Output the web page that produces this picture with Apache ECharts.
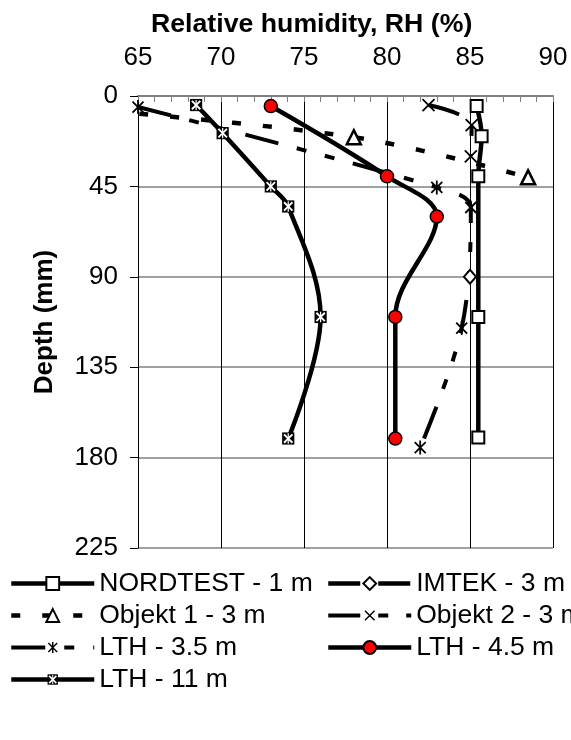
<!DOCTYPE html>
<html><head><meta charset="utf-8">
<script src="https://cdn.jsdelivr.net/npm/echarts@6/dist/echarts.min.js"></script>
<style>html,body{margin:0;padding:0;background:#fff}#c{width:571px;height:740px}</style>
</head><body><div id="c"></div>
<script>
// ---- data ----
const xTicks = [65, 70, 75, 80, 85, 90];
const yTicks = [0, 45, 90, 135, 180, 225];
const seriesNames = ['NORDTEST - 1 m', 'IMTEK - 3 m', 'Objekt 1 - 3 m', 'Objekt 2 - 3 m', 'LTH - 3.5 m', 'LTH - 4.5 m', 'LTH - 11 m'];
const nordtestRH = [85.4, 85.7, 85.5, 85.5, 85.5];
const nordtestDepth = [5, 20, 40, 110, 170];
const imtekRH = [85];
const imtekDepth = [90];
const objekt1RH = [59.5, 78, 88.5];
const objekt1Depth = [5, 20.5, 40.5];
const objekt2RH = [82.5, 85.1, 85.05];
const objekt2Depth = [4.5, 14.5, 30];
const lth35RH = [65, 83, 85.05, 84.5, 82];
const lth35Depth = [5.5, 45.5, 55.5, 115.5, 175];
const lth45RH = [73, 80, 83, 80.5, 80.5];
const lth45Depth = [5, 40, 60, 110, 170.5];
const lth11RH = [68.5, 70.1, 73, 74.05, 76, 74.05];
const lth11Depth = [4.5, 18.5, 45, 55, 110, 170.5];

const font = '"Liberation Sans", Arial, sans-serif';
function svgSym(body) {
  return 'image://data:image/svg+xml;charset=utf-8,' + encodeURIComponent(
    "<svg xmlns='http://www.w3.org/2000/svg' width='32' height='32' viewBox='0 0 16 16'>" + body + "</svg>");
}
const xMark = svgSym("<path d='M2 2L14 14M2 14L14 2' stroke='#000' stroke-width='1.8' fill='none'/>");
const astMark = svgSym("<path d='M2.5 2.5L13.5 13.5M2.5 13.5L13.5 2.5M8 1L8 15' stroke='#000' stroke-width='1.8' fill='none'/>");
const starMark = svgSym("<rect x='1.5' y='1.5' width='13' height='13' fill='#000'/><path d='M3.5 3.5L12.5 12.5M3.5 12.5L12.5 3.5' stroke='#fff' stroke-width='2'/><path d='M8 2.5L8 13.5' stroke='#fff' stroke-width='1.3'/>");

function zip(a, b) { return a.map((v, i) => [v, b[i]]); }
function mk(name, rh, depth, opt) {
  return Object.assign({ name, type: 'line', data: zip(rh, depth), smooth: 0.35, clip: true,
    emphasis: { disabled: true }, animation: false }, opt);
}
const series = [
  mk(seriesNames[0], nordtestRH, nordtestDepth, { symbol: 'rect', symbolSize: 12,
    lineStyle: { color: '#000', width: 4.5 }, itemStyle: { color: '#fff', borderColor: '#000', borderWidth: 2 } }),
  mk(seriesNames[1], imtekRH, imtekDepth, { symbol: 'diamond', symbolSize: [12, 14],
    lineStyle: { color: '#000', width: 4.5, type: [32, 18] }, itemStyle: { color: '#fff', borderColor: '#000', borderWidth: 2 } }),
  mk(seriesNames[2], objekt1RH, objekt1Depth, { symbol: 'triangle', symbolSize: 14,
    lineStyle: { color: '#000', width: 4.5, type: [9, 22] }, itemStyle: { color: '#fff', borderColor: '#000', borderWidth: 2.5 } }),
  mk(seriesNames[3], objekt2RH, objekt2Depth, { symbol: xMark, symbolSize: 16,
    lineStyle: { color: '#000', width: 4, type: [32, 18, 10, 18] }, itemStyle: { color: '#000' } }),
  mk(seriesNames[4], lth35RH, lth35Depth, { symbol: astMark, symbolSize: 16,
    lineStyle: { color: '#000', width: 4, type: [34, 19, 10, 19, 10, 19] }, itemStyle: { color: '#000' } }),
  mk(seriesNames[5], lth45RH, lth45Depth, { symbol: 'circle', symbolSize: 13,
    lineStyle: { color: '#000', width: 4.5 }, itemStyle: { color: '#ff0000', borderColor: '#000', borderWidth: 1.5 } }),
  mk(seriesNames[6], lth11RH, lth11Depth, { symbol: starMark, symbolSize: 15,
    lineStyle: { color: '#000', width: 4.5 }, itemStyle: { color: '#000' } })
];

const legendText = { fontFamily: font, fontSize: 26.5, color: '#000' };
const legendCommon = { orient: 'vertical', top: 570, padding: 0, itemWidth: 83, itemHeight: 16, itemGap: 5,
  selectedMode: false, textStyle: legendText, lineStyle: { width: 'inherit', type: 'inherit' } };
const chart = echarts.init(document.getElementById('c'), null, { renderer: 'canvas' });
chart.setOption({
  animation: false,
  backgroundColor: '#fff',
  title: { text: 'Relative humidity, RH (%)', left: 151, top: 11, padding: 0,
    textStyle: { fontFamily: font, fontSize: 26.7, fontWeight: 'bold', color: '#000' } },
  grid: { left: 138, right: 18, top: 96, bottom: 192, containLabel: false },
  xAxis: {
    type: 'value', position: 'top', min: xTicks[0], max: xTicks[xTicks.length - 1], interval: xTicks[1] - xTicks[0],
    axisLine: { show: true, onZero: false, lineStyle: { color: '#808080', width: 2 } },
    axisTick: { show: true, inside: true, length: 6, lineStyle: { color: '#808080' } },
    minorTick: { show: true, splitNumber: 5, length: 6, lineStyle: { color: '#808080', width: 1 } },
    axisLabel: { fontFamily: font, fontSize: 26, color: '#000', margin: 25 },
    splitLine: { show: true, lineStyle: { color: '#000', width: 1 } }
  },
  yAxis: {
    type: 'value', inverse: true, min: yTicks[0], max: yTicks[yTicks.length - 1], interval: yTicks[1] - yTicks[0],
    name: 'Depth (mm)', nameLocation: 'middle', nameGap: 80, nameRotate: 90,
    nameTextStyle: { fontFamily: font, fontSize: 26, fontWeight: 'bold', color: '#000' },
    axisLine: { show: true, onZero: false, lineStyle: { color: '#000', width: 1 } },
    axisTick: { show: true, length: 8, lineStyle: { color: '#000' } },
    axisLabel: { fontFamily: font, fontSize: 26, color: '#000', margin: 20 },
    splitLine: { show: true, lineStyle: { color: '#808080', width: 1.5 } }
  },
  legend: [
    Object.assign({ left: 9, data: [seriesNames[0], seriesNames[2], seriesNames[4], seriesNames[6]] }, legendCommon),
    Object.assign({ left: 326, data: [seriesNames[1], seriesNames[3], seriesNames[5]] }, legendCommon)
  ],
  series
});
</script></body></html>
